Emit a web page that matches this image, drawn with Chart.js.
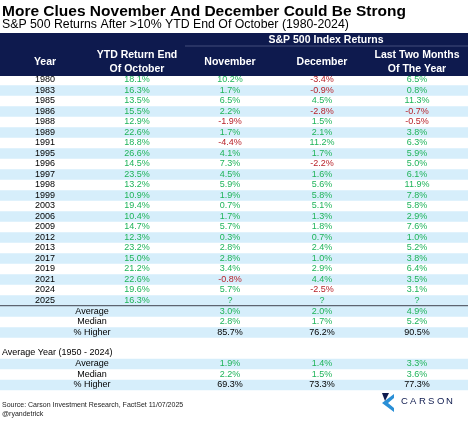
<!DOCTYPE html>
<html><head><meta charset="utf-8">
<script src="https://cdn.jsdelivr.net/npm/chart.js@4"></script>
<style>html,body{margin:0;padding:0;background:#fff}#c{display:block}</style>
</head><body><canvas id="c" width="468" height="427"></canvas>
<script>
const years = [1980,1983,1985,1986,1988,1989,1991,1995,1996,1997,1998,1999,2003,2006,2009,2012,2013,2017,2019,2021,2024,2025];
const ytdOct = [18.1,16.3,13.5,15.5,12.9,22.6,18.8,26.6,14.5,23.5,13.2,10.9,19.4,10.4,14.7,12.3,23.2,15.0,21.2,22.6,19.6,16.3];
const nov = [10.2,1.7,6.5,2.2,-1.9,1.7,-4.4,4.1,7.3,4.5,5.9,1.9,0.7,1.7,5.7,0.3,2.8,2.8,3.4,-0.8,5.7,null];
const dec = [-3.4,-0.9,4.5,-2.8,1.5,2.1,11.2,1.7,-2.2,1.6,5.6,5.8,5.1,1.3,1.8,0.7,2.4,1.0,2.9,4.4,-2.5,null];
const lastTwo = [6.5,0.8,11.3,-0.7,-0.5,3.8,6.3,5.9,5.0,6.1,11.9,7.8,5.8,2.9,7.6,1.0,5.2,3.8,6.4,3.5,3.1,null];
const statLabels = ['Average','Median','% Higher'];
const statNov = [3.0,2.8,85.7], statDec = [2.0,1.7,76.2], statLast = [4.9,5.2,90.5];
const avgNov = [1.9,2.2,69.3], avgDec = [1.4,1.5,73.3], avgLast = [3.3,3.6,77.3];

const GREEN='#1fb45a', RED='#b8232b', NAVY='#0e1a4e', STRIPE='#d6eefb';
const colX=[45,137,230,322,417];
const fmt=v=>v===null?'?':v.toFixed(1)+'%';
const plug={id:'tbl',afterDraw(ch){
  const c=ch.ctx,X=ch.scales.x,Y=ch.scales.y;
  const px=v=>X.getPixelForValue(v),py=v=>Y.getPixelForValue(v);
  c.save();
  c.textBaseline='middle';
  c.fillStyle='#000';c.textAlign='left';
  c.font='bold 15.5px Arial, "Liberation Sans"';c.fillText('More Clues November And December Could Be Strong',px(2),py(12));
  c.font='12.3px Arial, "Liberation Sans"';c.fillText('S&P 500 Returns After >10% YTD End Of October (1980-2024)',px(2),py(25));
  c.fillStyle=NAVY;c.fillRect(px(0),py(33),px(468)-px(0),py(76)-py(33));
  c.strokeStyle='#5a6690';c.lineWidth=0.7;c.beginPath();c.moveTo(px(185),py(46));c.lineTo(px(468),py(46));c.stroke();
  c.fillStyle='#fff';c.textAlign='center';c.font='bold 10.5px Arial, "Liberation Sans"';
  c.fillText('S&P 500 Index Returns',px(326),py(40));
  c.fillText('Year',px(colX[0]),py(62));
  c.fillText('YTD Return End',px(colX[1]),py(55));c.fillText('Of October',px(colX[1]),py(69));
  c.fillText('November',px(colX[2]),py(62));c.fillText('December',px(colX[3]),py(62));
  c.fillText('Last Two Months',px(colX[4]),py(55));c.fillText('Of The Year',px(colX[4]),py(69));
  const rh=10.5,y0=80;
  const cell=(v,x,y,black)=>{c.fillStyle=black?'#000':(v===null||v>=0?GREEN:RED);c.fillText(fmt(v),px(x),py(y));};
  c.font='9px Arial, "Liberation Sans"';
  years.forEach((yr,i)=>{const y=y0+i*rh;
    if(i%2){c.fillStyle=STRIPE;c.fillRect(px(0),py(y-rh/2),px(468)-px(0),py(y+rh/2)-py(y-rh/2));}
    c.fillStyle='#000';c.fillText(String(yr),px(colX[0]),py(y));
    cell(ytdOct[i],colX[1],y);cell(nov[i],colX[2],y);cell(dec[i],colX[3],y);cell(lastTwo[i],colX[4],y);
  });
  c.strokeStyle='#5d6470';c.lineWidth=2;c.beginPath();c.moveTo(px(0),py(306));c.lineTo(px(468),py(306));c.stroke();
  const stats=(ys,a,b,d)=>statLabels.forEach((l,i)=>{const y=ys+i*rh;
    if(i!==1){c.fillStyle=STRIPE;c.fillRect(px(0),py(y-rh/2),px(468)-px(0),py(y+rh/2)-py(y-rh/2));}
    c.fillStyle='#000';c.fillText(l,px(92),py(y));
    cell(a[i],colX[2],y,i===2);cell(b[i],colX[3],y,i===2);cell(d[i],colX[4],y,i===2);});
  stats(311.5,statNov,statDec,statLast);
  c.fillStyle='#000';c.textAlign='left';c.fillText('Average Year (1950 - 2024)',px(2),py(353));
  c.textAlign='center';
  stats(364,avgNov,avgDec,avgLast);
  c.textAlign='left';c.font='7px Arial, "Liberation Sans"';c.fillStyle='#222';
  c.fillText('Source: Carson Investment Research, FactSet 11/07/2025',px(2),py(405));
  c.fillText('@ryandetrick',px(2),py(414));
  // logo
  c.fillStyle='#2a8fd6';c.beginPath();c.moveTo(px(382),py(403));c.lineTo(px(394),py(394));c.lineTo(px(394),py(398));c.lineTo(px(388),py(403));c.lineTo(px(394),py(408));c.lineTo(px(394),py(412));c.closePath();c.fill();
  c.fillStyle='#0e1a4e';c.beginPath();c.moveTo(px(382),py(393));c.lineTo(px(389),py(393));c.lineTo(px(385),py(401));c.closePath();c.fill();
  c.fillStyle='#0e1a4e';c.font='9.5px Arial, "Liberation Sans"';
  const s='CARSON';for(let k=0;k<s.length;k++)c.fillText(s[k],px(401+k*9),py(401));
  c.restore();
}};
new Chart(document.getElementById('c'),{type:'scatter',data:{datasets:[{data:[],pointRadius:0}]},
 options:{responsive:false,animation:false,events:[],layout:{padding:0},
  plugins:{legend:{display:false},tooltip:{enabled:false}},
  scales:{x:{type:'linear',min:0,max:468,display:false},y:{type:'linear',min:0,max:427,reverse:true,display:false}}},
 plugins:[plug]});
</script></body></html>
